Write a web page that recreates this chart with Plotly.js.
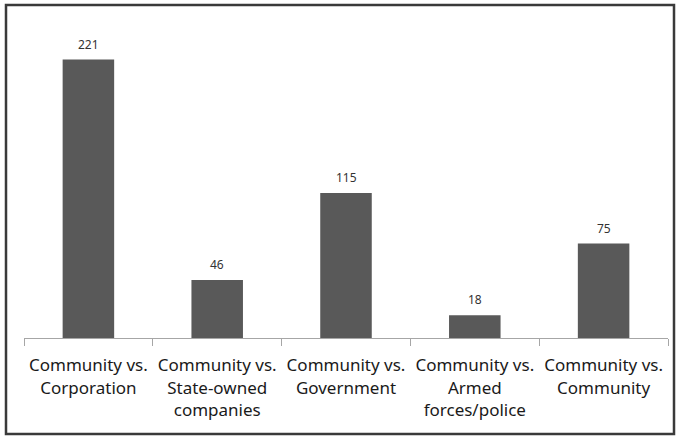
<!DOCTYPE html>
<html><head><meta charset="utf-8">
<script src="https://cdn.plot.ly/plotly-3.0.1.min.js"></script>
<style>html,body{margin:0;padding:0;background:#fff;}#chart{width:679px;height:436px;}</style>
</head><body><div id="chart"></div>
<script>
const categories = ["Corporation", "State-owned companies", "Government", "Armed forces/police", "Community"];
const tickLabels = ["Community vs.<br>Corporation", "Community vs.<br>State-owned<br>companies", "Community vs.<br>Government", "Community vs.<br>Armed<br>forces/police", "Community vs.<br>Community"];
const values = [221, 46, 115, 18, 75];

const W = 679, H = 436;
const m = {l: 24, r: 11, t: 23, b: 98};
const pw = W - m.l - m.r, ph = H - m.t - m.b;

const trace = {
  type: 'bar', x: categories, y: values,
  marker: {color: '#595959'}, hoverinfo: 'none'
};
const annotations = categories.map((c, i) => ({
  x: c, y: values[i], xref: 'x', yref: 'y', text: String(values[i]),
  showarrow: false, yanchor: 'bottom', yshift: 5,
  font: {family: 'Noto Sans, Open Sans, sans-serif', size: 12, color: '#333333'}
}));
const layout = {
  width: W, height: H, margin: m,
  paper_bgcolor: '#fff', plot_bgcolor: '#fff',
  showlegend: false, bargap: 0.6,
  font: {family: 'Noto Sans, Open Sans, sans-serif', color: '#1a1a1a'},
  xaxis: {
    type: 'category', tickmode: 'array', tickvals: categories, ticktext: tickLabels,
    tickson: 'boundaries', ticks: 'outside', ticklen: 7, tickcolor: '#a6a6a6', tickwidth: 1,
    showline: true, linecolor: '#a6a6a6', linewidth: 1, showgrid: false, zeroline: false,
    ticklabelstandoff: 12,
    tickfont: {size: 17, color: '#1a1a1a'}, fixedrange: true
  },
  yaxis: {range: [0, 250], visible: false, showgrid: false, zeroline: false, fixedrange: true},
  annotations: annotations,
  shapes: [{
    type: 'rect', xref: 'paper', yref: 'paper',
    x0: (6 - m.l) / pw, x1: (674 - m.l) / pw,
    y0: (H - m.b - 434) / ph, y1: (H - m.b - 5) / ph,
    line: {color: '#3a3a3a', width: 2.5}, fillcolor: 'rgba(0,0,0,0)', layer: 'above'
  }]
};
Plotly.newPlot('chart', [trace], layout, {displayModeBar: false, staticPlot: true});
</script></body></html>
